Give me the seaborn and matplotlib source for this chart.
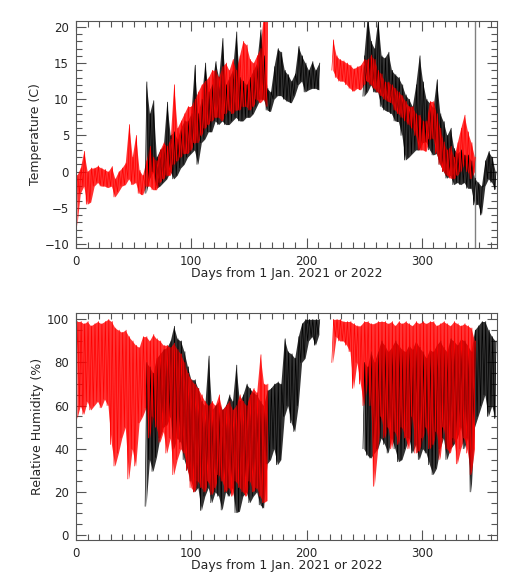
import numpy as np
import pandas as pd
import matplotlib
matplotlib.use("Agg")
import matplotlib.pyplot as plt
from matplotlib.ticker import MultipleLocator
import seaborn as sns

# --- DATOS: minimo y maximo por bloque de 3 dias ---
BIN = 3

# Temperatura, serie negra (2021)
temp_blk_a_start = 60
temp_blk_a_low = [-3, -1, 0, -2.3, -2, -1.5, -1, 0, -1, -0.5, 0.5, 1, 2, 2.5, 3, 1, 4, 4.5,
                  5.5, 5.5, 7, 6.5, 7, 6.5, 6.5, 7, 7.5, 7, 7, 7.5, 7.5, 8, 9, 10, 10, 8.5,
                  8.3, 10, 10.5, 10.5, 10, 9.7, 9.5, 10.5, 12, 12.5, 11, 11.3, 11.5, 11.5, 11.3]
temp_blk_a_high = [12.4, 8, 9.8, 2, 3, 3.5, 9.6, 5, 5.5, 4.5, 6, 7, 7, 8, 14.7, 8, 10, 15,
                   11, 12, 15.2, 13, 18.4, 12, 13, 14, 19.3, 13, 12.5, 12, 13, 14, 15, 19.6, 16, 11.5,
                   11, 14.5, 17, 16.5, 14, 13.4, 12.5, 13.5, 17.3, 16, 15, 14, 15.2, 14, 15]
temp_blk_b_start = 249
temp_blk_b_low = [10.4, 11, 12, 11, 11, 9, 8.5, 8.3, 8, 7, 6.9, 5, 1.6, 2, 2.5, 3, 3, 4, 4.1,
                  3, 2.3, 2.5, 1, 0, -0.9, -0.5, -1.8, -1.5, -1.8, -1.5, -2.3, -2.3, -4.6, -4.5,
                  -6, -2, -1, -1.5, -2.5]
temp_blk_b_high = [16, 21.5, 18, 17, 21, 16, 15.7, 16.5, 14, 13.4, 13, 12, 10.6, 10, 9, 12, 16,
                   12.4, 10, 9.5, 8.8, 12.7, 8, 6.9, 5, 6, 3.2, 2.5, 3, 2.3, 2.3, 1.5, -0.9, -1.5,
                   -2, 1.5, 2.8, 2, 0]
# registro erroneo del sensor (linea vertical gris)
temp_blk_glitch_day = 346.3
temp_blk_glitch_range = [-40, 40]

# Temperatura, serie roja (2022)
temp_red_a_start = 0
temp_red_a_low = [-7.5, -3, -2, -4.5, -4.2, -2, -1.5, -2, -2, -2.2, -2, -3.5, -2.8, -2, -1.8,
                  -1, -1.8, -1.5, -3, -3.2, -2, -2, -2.5, -2.5, -1.5, -1, -0.5, -0.5, 1, 1.5, 2,
                  2.5, 2.5, 3, 4, 4, 5, 6, 6.5, 7, 7.5, 7.5, 7, 8, 8.5, 8, 8.5, 8.5, 9, 9, 8.5,
                  9, 10, 9.5, 10, 9]
temp_red_a_high = [-0.5, 0.5, 2.8, 0, 0.5, 0.5, 0.8, 0.5, 0.3, 0, 0.7, -1, 0, 0.5, 1.2, 6.5, 2,
                   5, 0.2, -0.5, 1.5, 3.5, 2, 1.5, 3, 4, 3.5, 4.5, 12, 6, 7, 8, 9, 9, 10, 11, 12,
                   12.5, 13, 14, 14, 13, 14.5, 15, 14, 15.5, 14, 16, 18, 17.5, 15.5, 15, 16, 17,
                   22, 22]
temp_red_b_start = 222
temp_red_b_low = [14, 13, 12.5, 12.5, 12, 11.5, 11.1, 11.5, 11.3, 12, 12.5, 12, 11.5, 11, 10.5,
                  10, 9.7, 9.5, 8.5, 8, 7.5, 7, 6.5, 6, 5, 3, 3, 2.8, 4.5, 4.6, 2.5, 1, 0, -0.5,
                  -0.9, -1, -0.5, 0, 1, 0, -1, 0]
temp_red_b_high = [18.2, 16, 15.5, 15.3, 15, 14.7, 14.2, 14.5, 14.7, 15.5, 15.5, 16.1, 15.5, 14,
                   13.5, 12.4, 12.4, 12, 11.5, 11, 10.5, 9.7, 9, 9, 8, 7.8, 7, 7, 9.7, 9.7, 8, 6,
                   4.1, 3, 3.5, 2, 4, 6, 7.8, 5.5, 4, 2]

# Humedad relativa, serie negra (2021)
rh_blk_a_start = 60
rh_blk_a_low = [13.3, 35, 29.5, 36, 45, 50, 51, 55, 40, 45, 43, 35, 30, 25, 20, 22, 11.4, 18,
                22, 15, 20, 18, 11.6, 20, 18, 22, 10.4, 11, 18, 20, 15, 18, 20, 14, 12.5, 33,
                35, 40, 32.6, 35, 55, 60, 52, 48, 60, 80, 82, 90, 92, 88, 93]
rh_blk_a_high = [80, 78, 75, 82, 84, 86, 87, 90, 96.8, 91, 90, 85, 78, 72, 72, 68, 62, 60, 83,
                 58, 60, 62, 58, 60, 65, 62, 78.8, 62, 65, 70, 68, 66, 65, 62, 60, 67, 68, 70,
                 71, 70, 91, 85, 84, 82, 92, 98, 100, 100, 100, 100, 100]
rh_blk_b_start = 249
rh_blk_b_low = [40, 37, 35.7, 38, 40, 45, 42, 38, 45, 40, 34, 35, 40, 45, 38, 42, 35, 40, 38,
                32.6, 28, 31, 40, 45, 35, 40, 42, 45, 50, 40, 45, 20, 50, 55, 60, 65, 55, 60, 54]
rh_blk_b_high = [80, 78, 85, 80, 85, 90, 88, 85, 87, 90, 88, 86, 85, 88, 86, 90, 87, 85, 82,
                 86, 85, 88, 90, 87, 85, 91, 90, 88, 91, 90, 88, 85, 95, 97, 99, 99, 95, 92, 90]

# Humedad relativa, serie roja (2022)
rh_red_a_start = 0
rh_red_a_low = [54, 60, 56, 62, 58, 60, 62, 59, 63, 60, 42, 32, 38, 45, 50, 26, 40, 32, 52, 55,
                59, 45, 55, 50, 43, 48, 38, 45, 28, 35, 40, 38, 30, 22, 20, 25, 22, 20, 25,
                18.7, 22, 28, 25, 20, 22, 18, 25, 22, 20, 18, 25, 20, 22, 18, 15, 16]
rh_red_a_high = [99, 99, 98, 99, 97, 98, 99, 98, 99, 100, 99, 96, 95, 94, 95, 92, 90, 88, 87,
                 92, 92, 90, 93, 91, 90, 88, 88, 87, 89, 86, 84, 80, 75, 72, 70, 68, 65, 62, 60,
                 62, 60, 65, 58, 60, 62, 58, 60, 65, 62, 60, 65, 68, 66, 83.6, 70, 70]
rh_red_b_start = 222
rh_red_b_low = [80, 92, 90, 90, 88, 85, 68, 80, 70, 60, 70, 60, 22.6, 40, 55, 45, 50, 40, 48,
                42, 50, 45, 40, 55, 38, 39, 45, 50, 40, 42, 48, 35, 50, 40, 38, 45, 33, 40, 45,
                38, 28, 40]
rh_red_b_high = [100, 100, 100, 99, 99, 99, 98, 97, 97, 99, 99, 98, 98, 99, 99, 99, 98, 99, 97,
                 99, 98, 99, 98, 97, 99, 98, 99, 98, 99, 99, 97, 98, 99, 98, 97, 99, 98, 97, 98,
                 97, 96, 90]

xlabel = "Days from 1 Jan. 2021 or 2022"


def zigzag(start, lows, highs):
    # cada bloque: minimo y luego maximo
    day, val = [], []
    for i, (lo, hi) in enumerate(zip(lows, highs)):
        day += [start + BIN * i, start + BIN * i + BIN / 2]
        val += [lo, hi]
    return pd.DataFrame({"day": day, "val": val})


sns.set_style("white")
plt.rcParams['font.family'] = ['DejaVu Sans']

fig = plt.figure(figsize=(5.19, 5.84), dpi=100)
ax1 = fig.add_axes([0.1464, 0.5753, 0.8106, 0.3887])
ax2 = fig.add_axes([0.1464, 0.0753, 0.8106, 0.3882])

series = [
    (ax1, "black", temp_blk_a_start, temp_blk_a_low, temp_blk_a_high),
    (ax1, "black", temp_blk_b_start, temp_blk_b_low, temp_blk_b_high),
    (ax1, "red", temp_red_a_start, temp_red_a_low, temp_red_a_high),
    (ax1, "red", temp_red_b_start, temp_red_b_low, temp_red_b_high),
    (ax2, "black", rh_blk_a_start, rh_blk_a_low, rh_blk_a_high),
    (ax2, "black", rh_blk_b_start, rh_blk_b_low, rh_blk_b_high),
    (ax2, "red", rh_red_a_start, rh_red_a_low, rh_red_a_high),
    (ax2, "red", rh_red_b_start, rh_red_b_low, rh_red_b_high),
]
for ax, col, start, lo, hi in series:
    df = zigzag(start, lo, hi)
    # banda densa entre minimo y maximo de cada bloque
    centers = start + BIN * np.arange(len(lo)) + BIN / 4
    ax.fill_between(centers, lo, hi, color=col, alpha=0.8, lw=0)
    sns.lineplot(data=df, x="day", y="val", ax=ax, color=col, lw=0.5,
                 sort=False, estimator=None)

ax1.plot([temp_blk_glitch_day] * 2, temp_blk_glitch_range, color="#808080", lw=1.0, zorder=1)

ax1.set_ylim(-10.55, 20.8)
ax2.set_ylim(-2.3, 102.8)
ax1.yaxis.set_major_locator(MultipleLocator(5))
ax1.yaxis.set_minor_locator(MultipleLocator(1))
ax2.yaxis.set_major_locator(MultipleLocator(20))
ax2.yaxis.set_minor_locator(MultipleLocator(5))
ax1.set_ylabel("Temperature (C)", fontsize=9, labelpad=2)
ax2.set_ylabel("Relative Humidity (%)", fontsize=9, labelpad=2)

for ax in (ax1, ax2):
    ax.set_xlim(0, 365)
    ax.xaxis.set_major_locator(MultipleLocator(100))
    ax.xaxis.set_minor_locator(MultipleLocator(10))
    ax.set_xlabel(xlabel, fontsize=9, labelpad=-1)
    ax.tick_params(which="both", direction="in", top=True, right=True,
                   bottom=True, left=True,
                   color="#555555", width=0.8, labelsize=8.5)
    ax.tick_params(which="major", length=7, pad=5)
    ax.tick_params(which="minor", length=4)
    for sp in ax.spines.values():
        sp.set_color("#555555")
        sp.set_linewidth(0.8)

plt.savefig("out.png", dpi=100)
